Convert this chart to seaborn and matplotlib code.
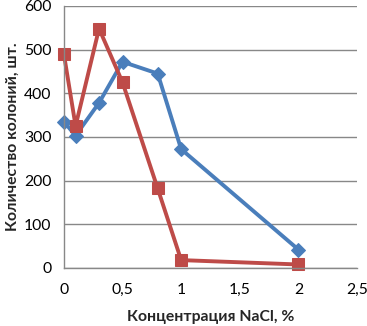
import matplotlib
matplotlib.use("Agg")
import matplotlib.pyplot as plt
import seaborn as sb
import pandas as pd
from matplotlib.ticker import FuncFormatter

# данные
conc = [0, 0.1, 0.3, 0.5, 0.8, 1, 2]
blue_counts = [335, 303, 378, 472, 445, 272, 42]
red_counts = [490, 325, 548, 425, 182, 18, 8]

df = pd.DataFrame({"conc": conc, "blue": blue_counts, "red": red_counts})

sb.set_style("white")
plt.rcParams['font.family'] = ['Lato', 'DejaVu Sans']

fig = plt.figure(figsize=(3.67, 3.26), dpi=100)
ax = fig.add_axes([0.174, 0.178, 0.799, 0.804])

sb.lineplot(data=df, x="conc", y="blue", ax=ax, color="#4A7EBB", linewidth=2.8,
            marker="D", markersize=7, markeredgecolor="#4A7EBB", sort=False, clip_on=False)
sb.lineplot(data=df, x="conc", y="red", ax=ax, color="#BE4B48", linewidth=2.8,
            marker="s", markersize=9, markeredgecolor="#BE4B48", sort=False, clip_on=False)

ax.set_xlim(0, 2.5)
ax.set_ylim(0, 600)
ax.set_xticks([0, 0.5, 1, 1.5, 2, 2.5])
ax.set_yticks(range(0, 601, 100))
ax.xaxis.set_major_formatter(FuncFormatter(lambda v, p: ('%g' % v).replace('.', ',')))
ax.yaxis.grid(True, color="#888888", linewidth=1)
ax.set_axisbelow(True)
for s in ["top", "right"]:
    ax.spines[s].set_visible(False)
for s in ["left", "bottom"]:
    ax.spines[s].set_color("#888888")
    ax.spines[s].set_linewidth(1)
ax.tick_params(axis="both", labelsize=11.3, colors="black", length=0)
ax.tick_params(axis="x", pad=11)
ax.tick_params(axis="y", pad=9)

ax.set_xlabel("Концентрация NaCl, %", fontsize=11.3, fontweight="bold", labelpad=9)
ax.set_ylabel("Количество колоний, шт.", fontsize=11.3, fontweight="bold", labelpad=3)

fig.savefig("out.png", dpi=100)
